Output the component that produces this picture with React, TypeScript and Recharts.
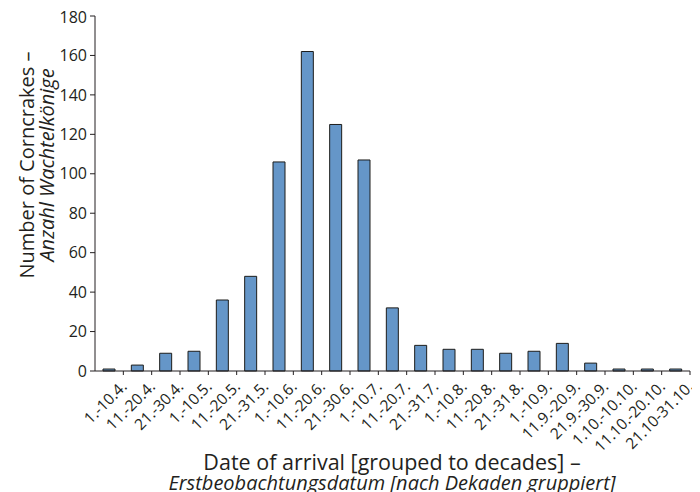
import React from "react";
import { BarChart, Bar, XAxis, YAxis, Label } from "recharts";

const categories = [
  "1.-10.4.", "11.-20.4.", "21.-30.4.", "1.-10.5.", "11.-20.5.", "21.-31.5.",
  "1.-10.6.", "11.-20.6.", "21.-30.6.", "1.-10.7.", "11.-20.7.", "21.-31.7.",
  "1.-10.8.", "11.-20.8.", "21.-31.8.", "1.-10.9.", "11.9.-20.9.", "21.9.-30.9.",
  "1.10.-10.10.", "11.10.-20.10.", "21.10-31.10.",
];
const counts = [1, 3, 9, 10, 36, 48, 106, 162, 125, 107, 32, 13, 11, 11, 9, 10, 14, 4, 1, 1, 1];
const yTicks = [0, 20, 40, 60, 80, 100, 120, 140, 160, 180];

const data = categories.map((c, i) => ({ name: c, value: counts[i] }));

const FONT = "'Open Sans', 'Noto Sans', sans-serif";
const TEXT = "#231f20";

const XTick = (props: any) => {
  const { x, y, payload } = props;
  const off = payload && typeof payload.offset === "number" ? payload.offset : 14;
  const ax = x + 9;
  const ay = y - 1;
  return (
    <g>
      <line x1={x + off} y1={y - 8} x2={x + off} y2={y - 4} stroke={TEXT} strokeWidth={1} />
      <text
        x={ax}
        y={ay}
        textAnchor="end"
        dominantBaseline="hanging"
        transform={`rotate(-45, ${ax}, ${ay})`}
        fontSize={15.5}
        fill={TEXT}
        fontFamily={FONT}
      >
        {payload.value}
      </text>
    </g>
  );
};

const YLabel = () => {
  const cy = 165 - 8;
  const x1 = 34 - 8;
  const x2 = 54 - 8;
  return (
    <g fontFamily={FONT} fontSize={20} fill={TEXT}>
      <text x={x1} y={cy} textAnchor="middle" transform={`rotate(-90, ${x1}, ${cy})`}>
        Number of Corncrakes –
      </text>
      <text x={x2} y={cy} textAnchor="middle" fontStyle="italic" transform={`rotate(-90, ${x2}, ${cy})`}>
        Anzahl Wachtelkönige
      </text>
    </g>
  );
};

const XLabel = () => {
  const cx = 392 - 8;
  return (
    <g fontFamily={FONT} fill={TEXT}>
      <text x={cx} y={470 - 8} textAnchor="middle" fontSize={21.5}>
        Date of arrival [grouped to decades] –
      </text>
      <text x={cx} y={490 - 8} textAnchor="middle" fontStyle="italic" fontSize={20}>
        Erstbeobachtungsdatum [nach Dekaden gruppiert]
      </text>
    </g>
  );
};

export default function App() {
  return (
    <BarChart
      width={692}
      height={484}
      data={data}
      margin={{ top: 8, right: 10, bottom: 41, left: 37 }}
      barCategoryGap={0}
    >
      <XAxis
        dataKey="name"
        interval={0}
        height={80}
        tick={<XTick />}
        tickLine={false}
        axisLine={{ stroke: TEXT, strokeWidth: 1 }}
      >
        <Label content={<XLabel />} position="bottom" />
      </XAxis>
      <YAxis
        domain={[0, 180]}
        ticks={yTicks}
        width={50}
        tickSize={5}
        tickMargin={3}
        axisLine={{ stroke: TEXT, strokeWidth: 1 }}
        tickLine={{ stroke: TEXT, strokeWidth: 1 }}
        tick={{ fontSize: 16, fill: TEXT, fontFamily: FONT }}
      >
        <Label content={<YLabel />} position="left" />
      </YAxis>
      <Bar
        dataKey="value"
        fill="#6596c8"
        stroke="#1d1d1b"
        strokeWidth={1}
        barSize={12}
        isAnimationActive={false}
      />
    </BarChart>
  );
}
